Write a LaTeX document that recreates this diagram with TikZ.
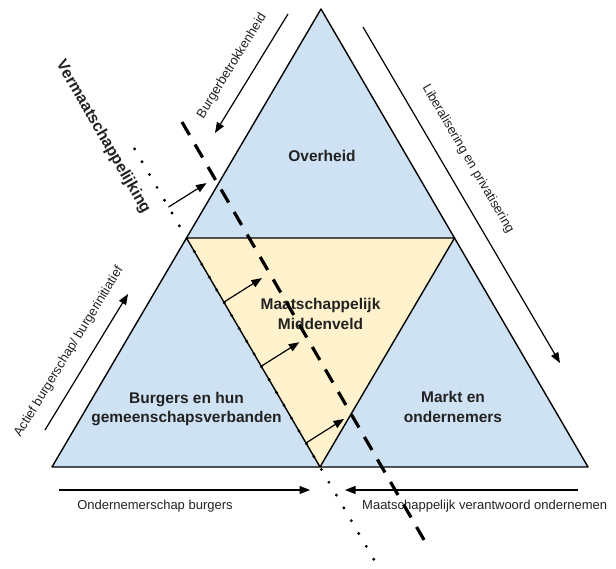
\documentclass[tikz,border=0pt]{standalone}
\usepackage{fontspec}
\setmainfont{Liberation Sans}
\definecolor{areablue}{RGB}{207,226,243}
\definecolor{areayellow}{RGB}{255,242,204}
\definecolor{inktext}{RGB}{34,34,34}
\usetikzlibrary{arrows.meta,calc}

\begin{document}
\begin{tikzpicture}[x=1pt,y=-1pt,
  sector/.style={font=\fontsize{15.5}{19.5}\selectfont\bfseries, text=inktext, align=center},
  sidenote/.style={font=\fontsize{13}{15}\selectfont, text=inktext, inner sep=0pt},
  flowarrow/.style={line width=1.2pt, -{Triangle[length=10.5pt,width=8pt]}},
  edge/.style={line width=1.4pt, line join=round}]
  \clip (0,0) rectangle (616,569);

  % Corners of the big triangle and the middle one
  \coordinate (apex) at (321,9);
  \coordinate (lft) at (52,467);
  \coordinate (rgt) at (588,467);
  \coordinate (midL) at ($(apex)!.5!(lft)$);
  \coordinate (midR) at ($(apex)!.5!(rgt)$);
  \coordinate (midB) at ($(lft)!.5!(rgt)$);

  % Areas
  \fill[areablue] (apex) -- (lft) -- (rgt) -- cycle;
  \fill[areayellow] (midL) -- (midR) -- (midB) -- cycle;
  \draw[edge] (apex) -- (lft) -- (rgt) -- cycle;
  \draw[edge] (midL) -- (midR) -- (midB) -- cycle;

  % Labels of the four parts
  \node[sector] (overheid) at (322,156) {Overheid};
  \node[sector] (midden) at (320.5,314) {Maatschappelijk\\Middenveld};
  \node[sector] (burgers) at (186.5,409) {Burgers en hun\\gemeenschapsverbanden};
  \node[sector] (markt) at (453,407) {Markt en\\ondernemers};

  % Shift arrows
  \foreach \t in {-0.135,0.28,0.56,0.895} {
    \coordinate (s) at ($(midL)!\t!(midB)$);
    \draw[flowarrow] (s) -- ($(s)!45pt!92:(midB)$);
  }

  % Dotted and dashed lines
  \draw[line width=3.2pt, line cap=round, dash pattern=on 0pt off 14.84pt]
    ($(midL)!-0.389!(midB)$) coordinate (dottop) -- ($(midL)!1.5!(midB)$) coordinate (dotbot);

  % Side texts at the bottom
  \node[sidenote] (ondern) at (155,506) {Ondernemerschap burgers};
  \node[sidenote, anchor=west] (mvo) at (362,506) {Maatschappelijk verantwoord ondernemen};

  \draw[line width=3.2pt, dash pattern=on 15pt off 11pt]
    (182,122) coordinate (dashtop) -- (427,545) coordinate (dashbot);

  % Arrows round the triangle
  \coordinate (bbA) at (288,14);  \coordinate (bbB) at (215,133);
  \coordinate (lpA) at (363,27);  \coordinate (lpB) at (560,363);
  \coordinate (abA) at (45,430);  \coordinate (abB) at (128,294);
  \coordinate (obA) at (59,490);  \coordinate (obB) at (310,490);
  \coordinate (mvA) at (578,490); \coordinate (mvB) at (345,490);
  \draw[flowarrow] (bbA) -- (bbB);
  \draw[flowarrow] (lpA) -- (lpB);
  \draw[flowarrow] (abA) -- (abB);
  \draw[flowarrow] (obA) -- (obB);
  \draw[flowarrow] (mvA) -- (mvB);

  \node[sidenote, rotate=58.5] (betrok) at (232,66) {Burgerbetrokkenheid};
  \node[sidenote, rotate=-59.6] (liber) at (468,159) {Liberalisering en privatisering};
  \node[sidenote, rotate=58.6] (actief) at (69,352) {Actief burgerschap/ burgerinitiatief};
  \node[font=\fontsize{16}{18}\selectfont\bfseries, text=inktext, rotate=-60] (vermaat) at (103,137) {Vermaatschappelijking};
\end{tikzpicture}
\end{document}
